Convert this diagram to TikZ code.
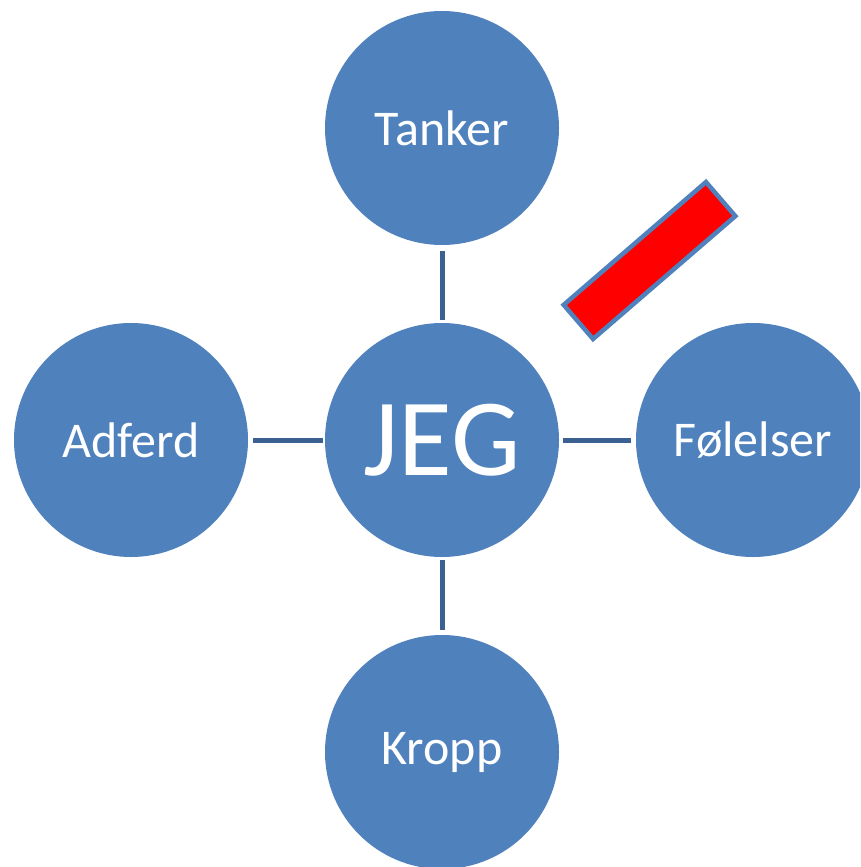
\documentclass[tikz,border=0pt]{standalone}
\usepackage{fontspec}
\setmainfont{Carlito}
\definecolor{cblue}{RGB}{79,129,189}
\definecolor{lblue}{RGB}{58,97,145}
\begin{document}
\begin{tikzpicture}[x=1pt,y=-1pt,
  bubble/.style={circle,fill=cblue,minimum size=234pt,inner sep=0pt,text=white,font=\fontsize{50}{54}\selectfont},
  link/.style={draw=lblue,line width=5pt}]
\useasboundingbox (0,0) rectangle (860,867);
\clip (0,0) rectangle (860,867);
\node[bubble] (jeg) at (442,440) {};
\node[text=white,font=\fontsize{110}{114}\selectfont] at (442,440) {JEG};
\node[bubble] (tanker) at (442,128) {Tanker};
\node[bubble] (adferd) at (131,440) {Adferd};
\node[bubble] (fol) at (753,440) {Følelser};
\node[bubble] (kropp) at (442,752) {Kropp};
\draw[link,shorten <=6pt,shorten >=3pt] (tanker) -- (jeg);
\draw[link,shorten <=5pt,shorten >=2pt] (adferd) -- (jeg);
\draw[link,shorten <=4pt,shorten >=5pt] (jeg) -- (fol);
\draw[link,shorten <=3pt,shorten >=5pt] (jeg) -- (kropp);
\node[draw=cblue,fill=red,line width=4.5pt,minimum width=188pt,minimum height=45pt,inner sep=0pt,rotate=40.8] (bar) at (649.5,260.5) {};
\end{tikzpicture}
\end{document}
